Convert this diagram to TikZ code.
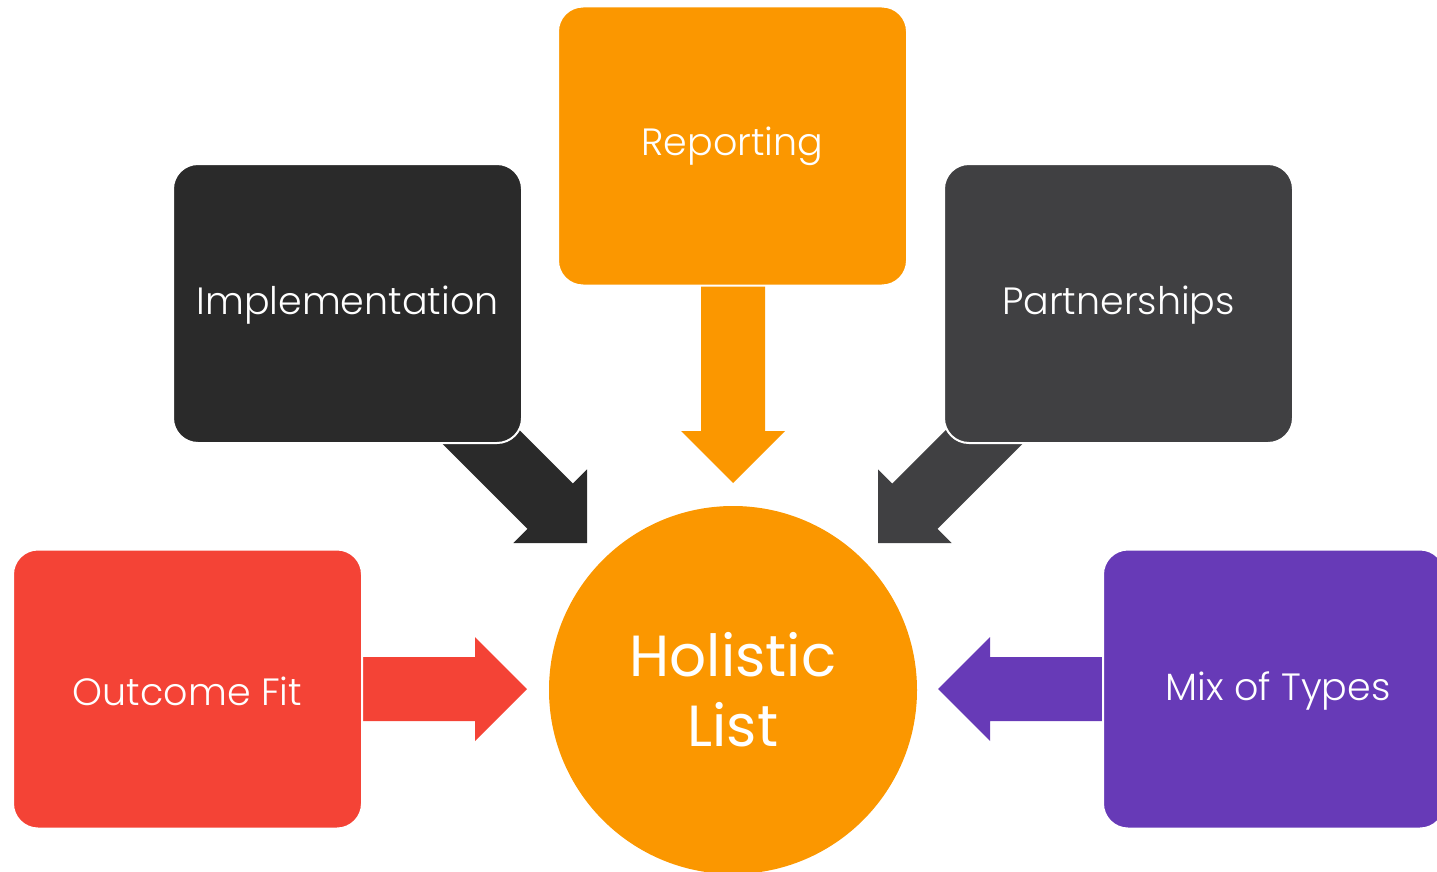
\documentclass[tikz,border=0pt]{standalone}
\usepackage{fontspec}
\setmainfont{Poppins Light}
\newfontfamily\holfont{Poppins}
\definecolor{cOrange}{HTML}{FB9700}
\definecolor{cDark}{HTML}{2A2A2A}
\definecolor{cGrey}{HTML}{404042}
\definecolor{cRed}{HTML}{F44336}
\definecolor{cPurple}{HTML}{673AB7}
\begin{document}
\begin{tikzpicture}[x=1pt,y=-1pt,
  box/.style={rectangle, rounded corners=25pt, draw=white, line width=2pt,
    minimum width=349pt, minimum height=279pt, inner sep=0pt, text=white,
    font=\fontsize{38}{46}\selectfont},
  boxtext/.style={text=white, font=\fontsize{38}{46}\selectfont},
  blockarrow/.pic={\fill (0,0) -- (-52,-52) -- (-52,-32) -- (-#1,-32) -- (-#1,32) -- (-52,32) -- (-52,52) -- cycle;}
]
\useasboundingbox (0,0) rectangle (1437,872);
% arrows (drawn below boxes)
\coordinate (tipTop) at (733,483);
\coordinate (tipL) at (527,689);
\coordinate (tipR) at (938,689);
\coordinate (tipDL) at (587,543);
\coordinate (tipDR) at (878,543);
\pic[fill=cOrange, shift={(tipTop)}, rotate=-90] {blockarrow=210};
\pic[fill=cRed, shift={(tipL)}] {blockarrow=175};
\pic[fill=cPurple, shift={(tipR)}, rotate=180] {blockarrow=175};
\pic[fill=cDark, shift={(tipDL)}, rotate=-45] {blockarrow=185};
\pic[fill=cGrey, shift={(tipDR)}, rotate=-135] {blockarrow=185};
% boxes
\node[box, fill=cOrange] (rep) at (732.5,146) {Reporting};
\node[box, fill=cDark] (impl) at (347.5,303.5) {};
\node[boxtext] (implt) at (347.5,305) {Implementation};
\node[box, fill=cGrey] (part) at (1118.5,303.5) {};
\node[boxtext] (partt) at (1118.5,305) {Partnerships};
\node[box, fill=cRed] (out) at (187.5,689) {};
\node[boxtext] (outt) at (187.5,691) {Outcome Fit};
\node[box, fill=cPurple, minimum width=342pt] (mix) at (1274,689) {};
\node[boxtext] (mixt) at (1278,691) {Mix of Types};
% centre circle
\node[circle, fill=cOrange, minimum size=368pt, inner sep=0pt, text=white,
  align=center, font=\holfont\fontsize{58}{70}\selectfont] (hol) at (733,690) {Holistic\\List};
\end{tikzpicture}
\end{document}
